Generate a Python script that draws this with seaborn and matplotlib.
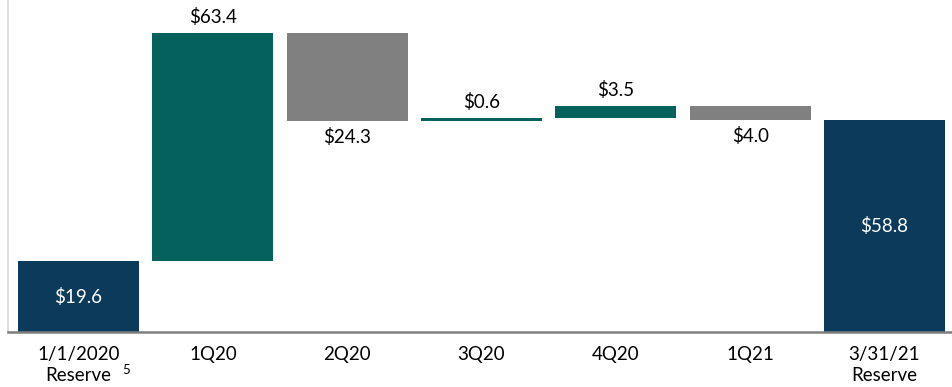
import matplotlib
matplotlib.use("Agg")
import matplotlib.pyplot as plt
import seaborn as sns
import numpy as np

categories = ["1/1/2020", "1Q20", "2Q20", "3Q20", "4Q20", "1Q21", "3/31/21"]
tick_labels = ["1/1/2020\nReserve", "1Q20", "2Q20", "3Q20", "4Q20", "1Q21", "3/31/21\nReserve"]
footnote = "5"
changes = [19.6, 63.4, -24.3, 0.6, 3.5, -4.0, 58.8]
kinds = ["total", "delta", "delta", "delta", "delta", "delta", "total"]
value_labels = ["$19.6", "$63.4", "$24.3", "$0.6", "$3.5", "$4.0", "$58.8"]

NAVY = "#0b3a5a"
TEAL = "#04615c"
GRAY = "#808080"

sns.set_theme(style="white")
plt.rcParams['font.family'] = ['Lato', 'DejaVu Sans']

FS = 13.5

fig = plt.figure(figsize=(9.53, 3.87), dpi=100)
ax = fig.add_axes([8/953, 55/387, 945/953, 332/387])

running = 0.0
for i, (cat, ch, kind, lab) in enumerate(zip(categories, changes, kinds, value_labels)):
    if kind == "total":
        bottom, height, color = 0.0, ch, NAVY
        running = ch
    else:
        if ch >= 0:
            bottom, height, color = running, ch, TEAL
        else:
            bottom, height, color = running + ch, -ch, GRAY
        running += ch
    sns.barplot(x=[cat], y=[height], bottom=bottom, order=categories, color=color,
                width=0.9, saturation=1, ax=ax, linewidth=0)
    if kind == "total":
        ax.text(i, bottom + height / 2, lab, ha="center", va="center", color="white", fontsize=FS)
    elif ch >= 0:
        ax.text(i, bottom + height + 2.0, lab, ha="center", va="bottom", color="black", fontsize=FS)
    else:
        ax.text(i, bottom - 2.0, lab, ha="center", va="top", color="black", fontsize=FS)

ax.set_xlim(-0.525, 6.51)
ax.set_ylim(0, 92.2)
ax.set_xticks(range(len(categories)))
ax.set_xticklabels(tick_labels, fontsize=FS, color="black", linespacing=1.3)
ax.set_yticks([])
ax.set_xlabel("")
ax.set_ylabel("")
ax.tick_params(axis="x", length=0, pad=10)

# footnote superscript after "Reserve" of the first label
ax.annotate(footnote, xy=(0.325, 0), xycoords=("data", "axes fraction"),
            xytext=(0, -27.5), textcoords="offset points",
            ha="left", va="center", fontsize=9.5, color="black")

for s in ["top", "right"]:
    ax.spines[s].set_visible(False)
ax.spines["left"].set_color("#d9d9d9")
ax.spines["left"].set_linewidth(1.2)
ax.spines["bottom"].set_color("#7f7f7f")
ax.spines["bottom"].set_linewidth(1.8)

fig.savefig("out.png", dpi=100)
